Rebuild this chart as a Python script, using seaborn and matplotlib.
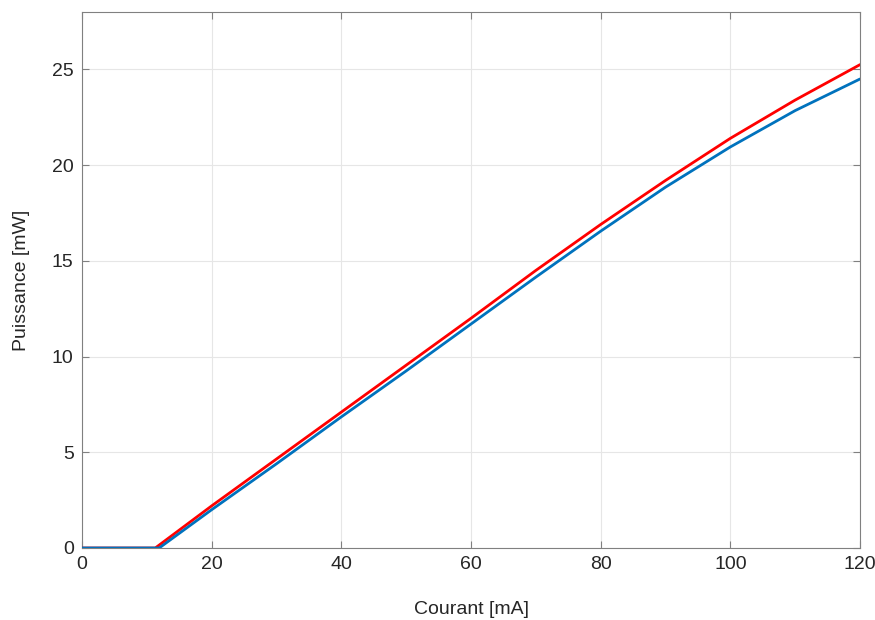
import matplotlib
matplotlib.use("Agg")
import matplotlib.pyplot as plt
import seaborn as sns
import pandas as pd

# Data (current in mA, power in mW)
courant_rouge = [0, 11.3, 20, 30, 40, 50, 60, 70, 80, 90, 100, 110, 120]
puissance_rouge = [0, 0, 2.2, 4.65, 7.1, 9.55, 12.0, 14.5, 16.9, 19.2, 21.4, 23.4, 25.25]

courant_bleu = [0, 11.9, 20, 30, 40, 50, 60, 70, 80, 90, 100, 110, 120]
puissance_bleu = [0, 0, 2.0, 4.4, 6.85, 9.25, 11.7, 14.15, 16.55, 18.85, 20.95, 22.85, 24.5]

x_ticks = [0, 20, 40, 60, 80, 100, 120]
y_ticks = [0, 5, 10, 15, 20, 25]

sns.set_theme(style="white")
plt.rcParams['font.family'] = ['Liberation Sans', 'DejaVu Sans']

df_r = pd.DataFrame({"Courant": courant_rouge, "Puissance": puissance_rouge})
df_b = pd.DataFrame({"Courant": courant_bleu, "Puissance": puissance_bleu})

fig = plt.figure(figsize=(8.75, 6.2), dpi=100)
ax = fig.add_axes([82/875, 1-548/620, (860-82)/875, (548-12)/620])

sns.lineplot(data=df_r, x="Courant", y="Puissance", ax=ax, color="#ff0000", linewidth=2.0, zorder=3)
sns.lineplot(data=df_b, x="Courant", y="Puissance", ax=ax, color="#0072bd", linewidth=2.0, zorder=4)

ax.set_xlim(0, 120)
ax.set_ylim(0, 28)
ax.set_xticks(x_ticks)
ax.set_yticks(y_ticks)
ax.grid(True, color="#e6e6e6", linewidth=0.8)
ax.set_axisbelow(True)
for s in ax.spines.values():
    s.set_color("#808080")
    s.set_linewidth(0.8)
ax.tick_params(direction="in", length=5, width=0.8, color="#808080",
               labelsize=14, labelcolor="#262626", top=True, right=True,
               left=True, bottom=True, pad=6)
ax.set_xlabel("Courant [mA]", fontsize=14, color="#262626", labelpad=20)
ax.set_ylabel("Puissance [mW]", fontsize=14, color="#262626", labelpad=16)

fig.savefig("out.png", dpi=100, facecolor="white")
